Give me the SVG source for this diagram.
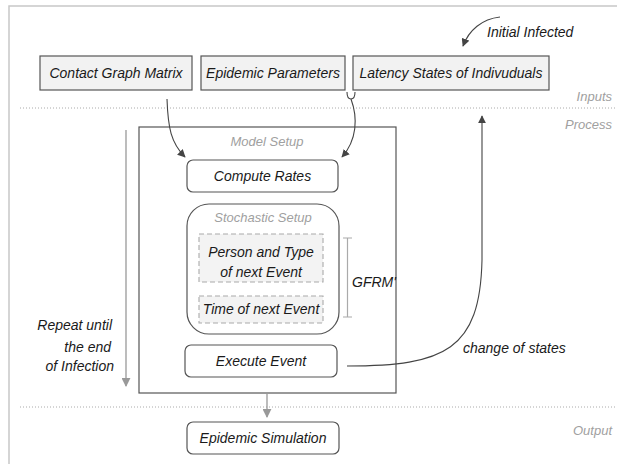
<svg xmlns="http://www.w3.org/2000/svg" width="617" height="464" viewBox="0 0 617 464">
<defs>
<style>
.t{font-family:"Liberation Sans",Arial,sans-serif;font-style:italic;font-size:14px;fill:#1a1a1a}
.g{font-family:"Liberation Sans",Arial,sans-serif;font-style:italic;font-size:13px;fill:#a0a0a0}
.in{fill:#f2f2f2;stroke:#555;stroke-width:1.2}
.rb{fill:#fff;stroke:#555;stroke-width:1.2}
.ds{fill:#f3f3f3;stroke:#aaa;stroke-width:1.1;stroke-dasharray:5 3}
.sep{stroke:#aaa;stroke-width:1;stroke-dasharray:1 2}
.c{fill:none;stroke:#444;stroke-width:1.1}
.cg{fill:none;stroke:#999;stroke-width:1.3}
</style>
<marker id="ah" viewBox="0 0 10 10" refX="9" refY="5" markerWidth="8" markerHeight="8" markerUnits="userSpaceOnUse" orient="auto"><path d="M0,0 L10,5 L0,10 z" fill="#444"/></marker>
<marker id="ahg" viewBox="0 0 10 10" refX="9" refY="5" markerWidth="9" markerHeight="9" markerUnits="userSpaceOnUse" orient="auto"><path d="M0,0 L10,5 L0,10 z" fill="#999"/></marker>
</defs>
<rect width="617" height="464" fill="#fff"/>
<g id="frame">
<path d="M617,6 L9,6 L9,464" fill="none" stroke="#c8c8c8" stroke-width="1.5"/>
<line class="sep" x1="20" y1="108" x2="617" y2="108"/>
<line class="sep" x1="20" y1="407" x2="617" y2="407"/>
<text class="g" x="612" y="101" text-anchor="end">Inputs</text>
<text class="g" x="612" y="129" text-anchor="end">Process</text>
<text class="g" x="612" y="435" text-anchor="end">Output</text>
</g>
<g id="contact-graph"><rect class="in" x="40" y="56" width="152" height="34"/><text class="t" x="116" y="78" text-anchor="middle">Contact Graph Matrix</text></g>
<g id="epidemic-params"><rect class="in" x="201" y="56" width="144" height="34"/><text class="t" x="273" y="78" text-anchor="middle">Epidemic Parameters</text></g>
<g id="latency-states"><rect class="in" x="353" y="56" width="196" height="34"/><text class="t" x="451" y="78" text-anchor="middle" font-size="13.5">Latency States of Indivuduals</text></g>
<g id="initial-infected"><text class="t" x="487" y="37">Initial Infected</text></g>
<g id="model-setup"><rect x="139" y="127" width="257" height="266" fill="none" stroke="#555" stroke-width="1.2"/><text class="g" x="267" y="146" text-anchor="middle">Model Setup</text></g>
<g id="compute-rates"><rect class="rb" x="187" y="160" width="151" height="32" rx="6"/><text class="t" x="262.5" y="181" text-anchor="middle">Compute Rates</text></g>
<g id="stochastic-setup"><rect class="rb" x="187" y="204" width="152" height="130" rx="22"/><text class="g" x="263" y="222" text-anchor="middle">Stochastic Setup</text></g>
<g id="person-type"><rect class="ds" x="199" y="234" width="124" height="48"/><text class="t" x="261" y="257" text-anchor="middle" font-size="13.5">Person and Type</text><text class="t" x="261" y="277" text-anchor="middle" font-size="13.5">of next Event</text></g>
<g id="time-next"><rect class="ds" x="199" y="296" width="124" height="27"/><text class="t" x="261" y="314" text-anchor="middle" font-size="13.5">Time of next Event</text></g>
<g id="gfrm"><path d="M343,238 H352 M347.5,238 V317 M343,317 H352" fill="none" stroke="#aaa" stroke-width="1.2"/><text class="t" x="352" y="287" font-size="13.5">GFRM'</text></g>
<g id="execute-event"><rect class="rb" x="185" y="345" width="152" height="32" rx="6"/><text class="t" x="261" y="366" text-anchor="middle">Execute Event</text></g>
<g id="epidemic-simulation"><rect class="rb" x="187" y="422" width="152" height="32" rx="6"/><text class="t" x="263" y="443" text-anchor="middle">Epidemic Simulation</text></g>
<g id="repeat-label"><text class="t" x="112" y="330" text-anchor="end" font-size="13.5">Repeat until</text><text class="t" x="111" y="352" text-anchor="end" font-size="13.5">the end</text><text class="t" x="114" y="371" text-anchor="end" font-size="13.5">of Infection</text></g>
<g id="change-label"><text class="t" x="463" y="353" font-size="13.5">change of states</text></g>
<g id="connectors">
<path class="c" d="M500,17 C482,19 469,30 463,46" marker-end="url(#ah)"/>
<path class="c" d="M167,99 C168,128 171,143 185,157" marker-end="url(#ah)"/>
<path class="c" d="M347,92 Q347,99 351,99 Q355,99 355,92"/>
<path class="c" d="M351,99 C358,118 357,140 342,157" marker-end="url(#ah)"/>
<path class="c" d="M347,366 C445,366 480,350 482,260 L482,116" marker-end="url(#ah)"/>
<path class="cg" d="M126,130 V386" marker-end="url(#ahg)"/>
<path class="cg" d="M267,393 V417" marker-end="url(#ahg)"/>
</g>
</svg>
